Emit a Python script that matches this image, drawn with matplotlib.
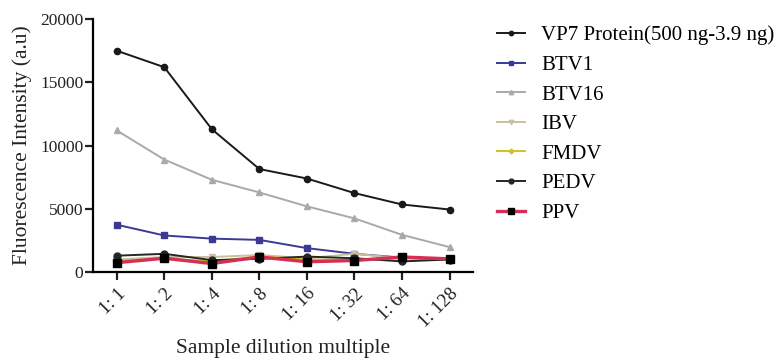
import numpy as np
import matplotlib
matplotlib.use('Agg')
import matplotlib.pyplot as plt

plt.rcParams['font.family'] = ['Liberation Serif', 'DejaVu Serif']

# dilution labels
dilutions = ['1: 1', '1: 2', '1: 4', '1: 8', '1: 16', '1: 32', '1: 64', '1: 128']

# fluorescence values
vp7 = [17500, 16200, 11300, 8150, 7400, 6250, 5350, 4950]
btv1 = [3750, 2900, 2650, 2550, 1900, 1450, 1150, 1050]
btv16 = [11200, 8900, 7300, 6300, 5200, 4250, 2950, 1980]
ibv = [1000, 1200, 1200, 1350, 1100, 1450, 1100, 1000]
fmdv = [900, 1100, 850, 1250, 1000, 1000, 1100, 1000]
pedv = [1300, 1450, 950, 1050, 1230, 1100, 850, 1000]
ppv = [750, 1100, 680, 1200, 820, 920, 1200, 1050]

fig = plt.figure(figsize=(7.81, 3.6), dpi=100)
ax = fig.add_axes([0.119, 0.244, 0.487, 0.703])

x = np.arange(len(dilutions))

ax.plot(x, vp7, color='#1a1a1a', lw=1.4, marker='o', ms=4.5, label='VP7 Protein(500 ng-3.9 ng)')
ax.plot(x, btv1, color='#3a3a96', lw=1.4, marker='s', ms=4.5, label='BTV1')
ax.plot(x, btv16, color='#a9a9ad', lw=1.4, marker='^', ms=4.5, label='BTV16')
ax.plot(x, ibv, color='#c9c0a2', lw=1.4, marker='v', ms=4.5, label='IBV')
ax.plot(x, fmdv, color='#d2c21e', lw=1.4, marker='D', ms=3.5, label='FMDV')
ax.plot(x, pedv, color='#262626', lw=1.4, marker='o', ms=5, label='PEDV')
ax.plot(x, ppv, color='#d62f55', lw=2.4, marker='s', ms=5.5, mfc='black', mec='black', label='PPV')

ax.set_xlim(-0.5, 7.5)
ax.set_ylim(0, 20000)
ax.set_yticks([0, 5000, 10000, 15000, 20000])
ax.set_xticks(x)
ax.set_xticklabels(dilutions, rotation=45, ha='right', rotation_mode='anchor')

ax.spines['top'].set_visible(False)
ax.spines['right'].set_visible(False)
ax.spines['left'].set_linewidth(1.6)
ax.spines['bottom'].set_linewidth(1.6)
ax.tick_params(axis='both', width=1.6, length=6, colors='#222222')
ax.tick_params(axis='x', labelsize=13.5)
ax.tick_params(axis='y', labelsize=12.5, pad=1)

ax.set_ylabel('Fluorescence Intensity (a.u)', fontsize=15.5, color='#222222', labelpad=6)
ax.set_xlabel('Sample dilution multiple', fontsize=15.5, color='#222222', labelpad=6)

ax.legend(loc='upper left', bbox_to_anchor=(1.012, 1.048), frameon=False, fontsize=15,
          handlelength=1.35, handletextpad=0.8, labelspacing=0.48, markerscale=0.7)

fig.savefig('out.png', dpi=100)
